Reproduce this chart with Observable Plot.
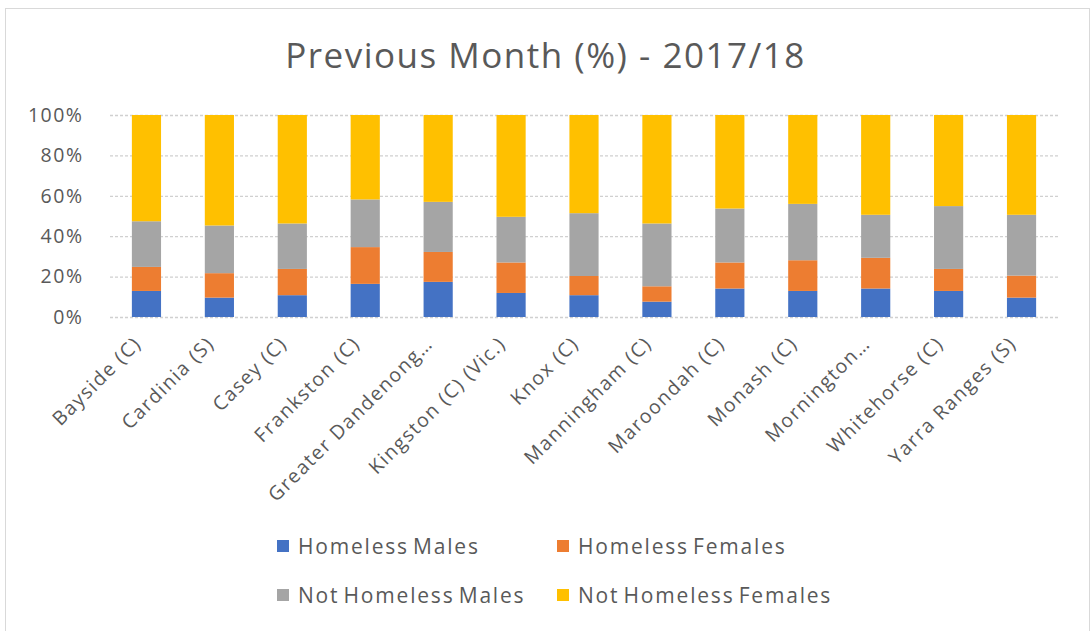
<!DOCTYPE html>
<html>
<head>
<meta charset="utf-8">
<script src="https://cdn.jsdelivr.net/npm/d3@7"></script>
<script src="https://cdn.jsdelivr.net/npm/@observablehq/plot@0.6"></script>
<style>
  html, body { margin: 0; padding: 0; background: #fff; }
  body { width: 1091px; height: 631px; position: relative; overflow: hidden; font-family: "Open Sans", sans-serif; color: #595959; }
  #frame { position: absolute; left: 5px; top: 8px; width: 1085px; height: 640px; border: 1.5px solid #d9d9d9; box-sizing: border-box; }
  #title { position: absolute; left: 0; width: 1091px; top: 33px; text-align: center; font-size: 35px; line-height: 44px; letter-spacing: 1.5px; color: #595959; }
  #chart { position: absolute; left: 0; top: 0; }
  #chart svg text { letter-spacing: 1.5px; }
  .leg { position: absolute; font-size: 21px; line-height: 26px; letter-spacing: 1.8px; word-spacing: -3px; color: #595959; display: flex; align-items: center; white-space: nowrap; }
  .leg span.sw { display: inline-block; width: 12px; height: 12px; margin-right: 9px; }
</style>
</head>
<body>
<div id="frame"></div>
<div id="chart"></div>
<div id="title">Previous Month (%) - 2017/18</div>
<div id="legend"></div>
<script>
const districts = ["Bayside (C)", "Cardinia (S)", "Casey (C)", "Frankston (C)", "Greater Dandenong…", "Kingston (C) (Vic.)", "Knox (C)", "Manningham (C)", "Maroondah (C)", "Monash (C)", "Mornington…", "Whitehorse (C)", "Yarra Ranges (S)"];
const seriesNames = ["Homeless Males", "Homeless Females", "Not Homeless Males", "Not Homeless Females"];
const seriesColors = ["#4472C4", "#ED7D31", "#A5A5A5", "#FFC000"];
const homelessMales      = [12.9, 9.6, 10.8, 16.4, 17.4, 11.9, 10.8, 7.6, 14.1, 12.9, 14.1, 12.9, 9.6];
const homelessFemales    = [11.9, 12.1, 13.0, 18.2, 14.8, 15.1, 9.5, 7.6, 12.9, 15.2, 15.2, 10.9, 10.9];
const notHomelessMales   = [22.6, 23.6, 22.5, 23.6, 24.8, 22.6, 31.1, 31.1, 26.7, 27.9, 21.3, 31.1, 30.1];
const notHomelessFemales = [52.6, 54.7, 53.7, 41.8, 43.0, 50.4, 48.6, 53.7, 46.3, 44.0, 49.4, 45.1, 49.4];
const yTicks = [0, 0.2, 0.4, 0.6, 0.8, 1];

const seriesValues = [homelessMales, homelessFemales, notHomelessMales, notHomelessFemales];
const rows = [];
seriesNames.forEach((s, si) => {
  districts.forEach((d, di) => rows.push({district: d, series: s, value: seriesValues[si][di]}));
});

const chart = Plot.plot({
  width: 1091,
  height: 520,
  marginLeft: 110,
  marginRight: 33,
  marginTop: 115,
  marginBottom: 203,
  style: {fontFamily: "Open Sans, sans-serif", fontSize: "19.5px", color: "#595959", background: "transparent"},
  x: {domain: districts, paddingInner: 0.6, paddingOuter: 0.3, round: false, label: null},
  y: {domain: [0, 1], label: null},
  color: {domain: seriesNames, range: seriesColors},
  marks: [
    Plot.gridY(yTicks, {stroke: "#d0d0d0", strokeOpacity: 1, strokeDasharray: "3,2", strokeWidth: 1.3}),
    Plot.barY(rows, Plot.stackY({offset: "normalize", order: null}, {x: "district", y: "value", fill: "series"})),
    Plot.axisY({ticks: yTicks, tickFormat: d3.format(".0%"), tickSize: 0, tickPadding: 27, label: null}),
    Plot.axisX({tickRotate: -45, tickSize: 0, tickPadding: 20, dx: -9, dy: 3, label: null})
  ]
});
document.getElementById("chart").appendChild(chart);

const legend = document.getElementById("legend");
const legPos = [[277, 546], [557, 546], [277, 595], [557, 595]];
seriesNames.forEach((s, i) => {
  const el = document.createElement("div");
  el.className = "leg";
  el.style.left = legPos[i][0] + "px";
  el.style.top = (legPos[i][1] - 13) + "px";
  el.innerHTML = `<span class="sw" style="background:${seriesColors[i]}"></span>${s}`;
  legend.appendChild(el);
});
</script>
</body>
</html>
